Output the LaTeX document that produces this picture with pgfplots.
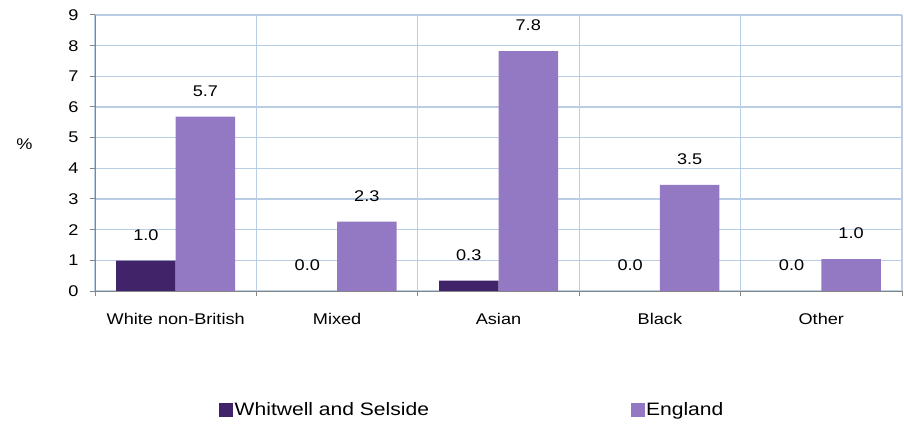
\documentclass[border=0pt]{standalone}
\usepackage{pgfplots}
\pgfplotsset{compat=1.18}
\usepackage{fontspec}
\setmainfont{Liberation Sans}[FakeStretch=1.17]
\definecolor{darkp}{RGB}{64,35,105}
\definecolor{lightp}{RGB}{147,121,196}
\definecolor{gridblue}{RGB}{185,205,229}
\definecolor{axisgray}{RGB}{134,134,134}
\begin{document}
\begin{tikzpicture}
\useasboundingbox (0,0) rectangle (904bp,424bp);
\begin{axis}[
  at={(95bp,133bp)}, anchor=south west,
  scale only axis, width=807bp, height=276bp,
  ybar, bar width=59.5bp,
  xmin=-0.5, xmax=4.5, ymin=0, ymax=9,
  axis x line*=bottom, axis y line*=left,
  axis line style={draw=axisgray, line width=1bp},
  xtick={0,...,4},
  xticklabels={White non-British, Mixed, Asian, Black, Other},
  major x tick style={draw=none},
  minor xtick={-0.5,0.5,...,4.5},
  xminorgrids=true,
  ytick={0,...,9}, ymajorgrids=true,
  grid style={draw=gridblue, line width=1.3bp},
  minor grid style={draw=gridblue, line width=1.3bp},
  tick align=outside,
  major tick length=5bp, minor tick length=5bp,
  tick style={draw=axisgray, line width=1bp},
  major y tick style={draw=axisgray, line width=1bp},
  ticklabel style={font=\fontsize{15.5bp}{18bp}\selectfont},
  yticklabel style={anchor=east, xshift=-8bp},
  xticklabel style={anchor=north, yshift=-14bp},
  /pgf/number format/assume math mode=true,
  ylabel={\%},
  ylabel style={rotate=-90, at={(axis description cs:-0.0874,0.533)}, anchor=center, font=\fontsize{15.5bp}{18bp}\selectfont},
  point meta=y,
  nodes near coords={\pgfmathprintnumber[fixed,fixed zerofill,precision=1,assume math mode=true]{\pgfplotspointmeta}},
  every node near coord/.append style={anchor=south, inner sep=0pt, yshift=20bp, font=\fontsize{15.5bp}{18bp}\selectfont, text=black},
  legend style={at={(axis description cs:0.1537,-0.431)}, anchor=west, draw=none, fill=none, inner sep=0pt,
    font=\fontsize{18bp}{21bp}\selectfont, nodes={inner sep=1.5bp},
    /tikz/every even column/.append style={column sep=200bp}},
  legend columns=2,
  legend image code/.code={\fill[#1] (0bp,-7bp) rectangle (14bp,7bp);},
]
\addplot[fill=darkp, draw=none, bar shift=-29.75bp] coordinates {(0,0.99) (1,0) (2,0.34) (3,0) (4,0)};
\addlegendentry{Whitwell and Selside}
\addplot[fill=lightp, draw=none, bar shift=29.75bp] coordinates {(0,5.69) (1,2.26) (2,7.82) (3,3.46) (4,1.04)};
\addlegendentry{England}
\end{axis}
\end{tikzpicture}
\end{document}
